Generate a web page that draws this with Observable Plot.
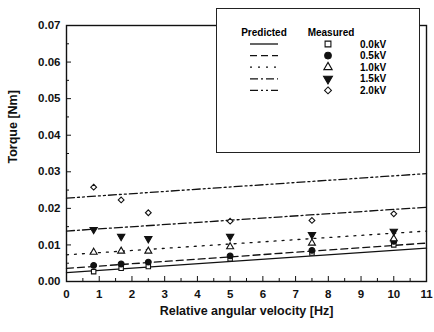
<!DOCTYPE html>
<html><head><meta charset="utf-8">
<script src="https://cdn.jsdelivr.net/npm/d3@7"></script>
<script src="https://cdn.jsdelivr.net/npm/@observablehq/plot@0.6"></script>
<style>
body{margin:0;background:#fff;}
#wrap{position:relative;width:434px;height:332px;font-family:"Liberation Sans",Arial,sans-serif;color:#111;}
#legend{position:absolute;left:216px;top:8px;width:204px;height:145px;background:#fff;border:1.3px solid #222;box-sizing:border-box;}
</style></head><body><div id="wrap"></div>
<script>
// ---- data ----
const voltages = ["0.0kV", "0.5kV", "1.0kV", "1.5kV", "2.0kV"];
const measuredFreq = [0.83, 1.67, 2.5, 5, 7.5, 10];
const measured00 = [0.0027, 0.0036, 0.0041, 0.0062, 0.0078, 0.0100];
const measured05 = [0.0044, 0.0048, 0.0053, 0.0070, 0.0085, 0.0110];
const measured10 = [0.0080, 0.0083, 0.0083, 0.0095, 0.0105, 0.0117];
const measured15 = [0.0142, 0.0123, 0.0117, 0.0123, 0.0128, 0.0137];
const measured20 = [0.0258, 0.0223, 0.0188, 0.0165, 0.0167, 0.0185];
const predictedFreq = [0, 11];
const predicted00 = [0.0024, 0.0091];
const predicted05 = [0.0036, 0.0105];
const predicted10 = [0.0073, 0.0138];
const predicted15 = [0.0138, 0.0203];
const predicted20 = [0.0228, 0.0295];
const xTicks = [0,1,2,3,4,5,6,7,8,9,10,11];
const xMinor = [0.5,1.5,2.5,3.5,4.5,5.5,6.5,7.5,8.5,9.5,10.5];
const yTicks = [0, 0.01, 0.02, 0.03, 0.04, 0.05, 0.06, 0.07];
const yMinor = [0.005, 0.015, 0.025, 0.035, 0.045, 0.055, 0.065];
const xLabel = "Relative angular velocity [Hz]";
const yLabel = "Torque [Nm]";

const measured = [measured00, measured05, measured10, measured15, measured20];
const predicted = [predicted00, predicted05, predicted10, predicted15, predicted20];
const dashes = [null, "7,4", "2,6", "8,3,2,3", "8,3,2,3,2,3"];
const symbols = ["square", "circle", "triangle", "triangle", "diamond2"];
const fills = ["white", "#111", "white", "#111", "white"];
const rotates = [0, 0, 0, 180, 0];
const sizes = [2.5, 2.9, 2.6, 2.7, 2.6];

const marks = [];
predicted.forEach((ys, i) => {
  const rows = predictedFreq.map((f, j) => ({f, t: ys[j]}));
  marks.push(Plot.line(rows, {x: "f", y: "t", stroke: "#111", strokeWidth: 1.3,
    strokeDasharray: dashes[i] || undefined}));
});
measured.forEach((ys, i) => {
  const rows = measuredFreq.map((f, j) => ({f, t: ys[j]}));
  marks.push(Plot.dot(rows, {x: "f", y: "t", symbol: () => symbols[i], r: sizes[i],
    stroke: "#111", strokeWidth: 1.1, fill: fills[i], rotate: rotates[i]}));
});

const chart = Plot.plot({
  width: 434, height: 332,
  marginLeft: 66, marginRight: 8, marginTop: 25, marginBottom: 51,
  style: {fontFamily: '"Liberation Sans", Arial, sans-serif', fontSize: "11.5px", color: "#111"},
  x: {domain: [0, 11], axis: null},
  y: {domain: [0, 0.07], axis: null},
  symbol: {type: "identity"},
  marks: [
    Plot.frame({stroke: "#111", strokeWidth: 1.4}),
    Plot.axisX(xTicks, {tickSize: -5, text: null, label: null, stroke: "#111"}),
    Plot.axisX(xMinor, {tickSize: -3, text: null, label: null, stroke: "#111"}),
    Plot.axisX(xTicks, {tickSize: 0, tickPadding: 8, tickFormat: d3.format("d"), label: null, fontWeight: "bold"}),
    Plot.axisY(yTicks, {tickSize: -5, text: null, label: null, stroke: "#111"}),
    Plot.axisY(yMinor, {tickSize: -3, text: null, label: null, stroke: "#111"}),
    Plot.axisY(yTicks, {tickSize: 0, tickPadding: 6, tickFormat: d3.format(".2f"), label: null, fontWeight: "bold"}),
    Plot.text([xLabel], {text: d => d, frameAnchor: "bottom", dy: 33, fontSize: 12.5, fontWeight: "bold", fill: "#111"}),
    Plot.text([yLabel], {text: d => d, frameAnchor: "left", dx: -54, dy: 10, rotate: -90, fontSize: 12.5, fontWeight: "bold", fill: "#111"}),
    ...marks
  ]
});
const wrap = document.getElementById("wrap");
wrap.appendChild(chart);

// ---- legend ----
const legend = d3.select(wrap).append("div").attr("id", "legend");
const ls = legend.append("svg").attr("width", 204).attr("height", 145)
  .style("font-family", '"Liberation Sans", Arial, sans-serif').style("font-size", "10px").style("font-weight", "bold");
ls.append("text").attr("x", 47).attr("y", 27).attr("text-anchor", "middle").text("Predicted");
ls.append("text").attr("x", 114).attr("y", 27).attr("text-anchor", "middle").text("Measured");
const symTypes = [d3.symbolSquare, d3.symbolCircle, d3.symbolTriangle, d3.symbolTriangle, d3.symbolDiamond2];
const symArea = [34, 34, 30, 34, 30];
voltages.forEach((v, i) => {
  const y = 35 + i * 11.6;
  ls.append("line").attr("x1", 33).attr("x2", 61).attr("y1", y).attr("y2", y)
    .attr("stroke", "#111").attr("stroke-width", 1.3).attr("stroke-dasharray", dashes[i]);
  ls.append("path").attr("d", d3.symbol(symTypes[i], symArea[i])())
    .attr("transform", `translate(111,${y}) rotate(${rotates[i]})`)
    .attr("fill", fills[i]).attr("stroke", "#111").attr("stroke-width", 1.1);
  ls.append("text").attr("x", 143).attr("y", y + 3.5).text(v);
});
</script></body></html>
